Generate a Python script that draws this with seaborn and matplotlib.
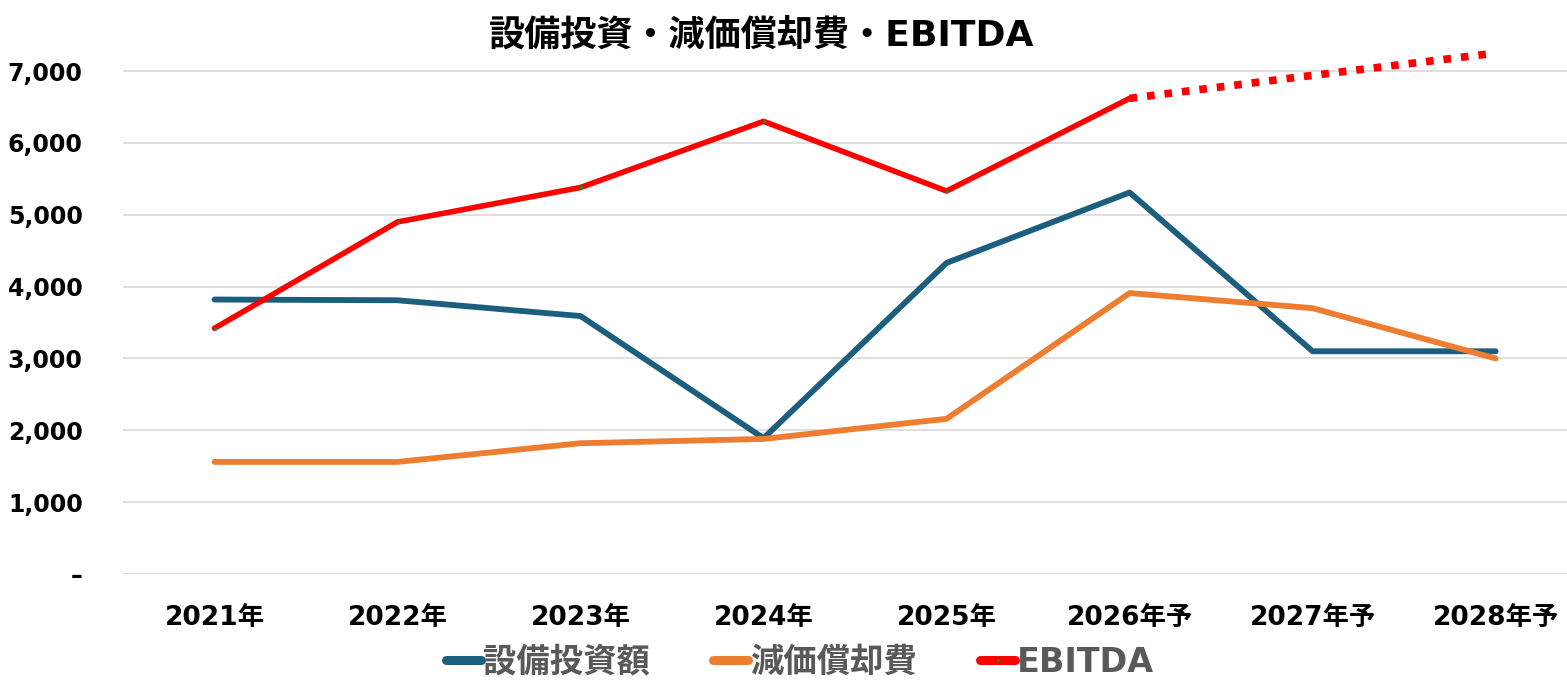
import pandas as pd
import matplotlib.pyplot as plt
import numpy as np
import seaborn as sns

years = ["2021年", "2022年", "2023年", "2024年", "2025年", "2026年予", "2027年予", "2028年予"]
capex = [3820, 3810, 3590, 1890, 4330, 5310, 3100, 3100]
depreciation = [1560, 1560, 1820, 1880, 2160, 3910, 3700, 3000]
ebitda_actual = [3420, 4900, 5380, 6300, 5330, 6620]
ebitda_forecast = [6620, 6940, 7250]
yticks = [0, 1000, 2000, 3000, 4000, 5000, 6000, 7000]

sns.set_style("white")
plt.rcParams['font.family'] = ['DejaVu Sans', 'Noto Sans CJK JP']

fig = plt.figure(figsize=(15.67, 6.84), dpi=100)
ax = fig.add_axes([123 / 1567, 1 - 574 / 684, 1 - 123 / 1567, (574 - 49.5) / 684])

idx = np.arange(len(years))
blue = "#1B5E7E"
orange = "#ED7D31"
red = "#FF0000"

sns.lineplot(x=idx, y=capex, ax=ax, color=blue, linewidth=4.2,
             solid_capstyle="round", label="設備投資額")
sns.lineplot(x=idx, y=depreciation, ax=ax, color=orange, linewidth=4.2,
             solid_capstyle="round", label="減価償却費")
sns.lineplot(x=idx[:6], y=ebitda_actual, ax=ax, color=red, linewidth=4.0,
             marker="o", markersize=2.5, markerfacecolor="#2E7D32",
             markeredgewidth=0, label="EBITDA")
sns.lineplot(x=idx[5:], y=ebitda_forecast, ax=ax, color=red, linewidth=5.5,
             linestyle=(0, (1, 1.3)), dash_capstyle="butt", legend=False)

ax.set_xlim(-0.5, 7.39)
ax.set_ylim(0, 7300)
ax.set_yticks(yticks)
ax.set_yticklabels(["–" if v == 0 else f"{v:,}" for v in yticks])
ax.set_xticks(idx)
ax.set_xticklabels(years)
ax.tick_params(axis="y", length=0, pad=29, labelsize=17)
ax.tick_params(axis="x", length=0, pad=22, labelsize=19)
for lab in ax.get_xticklabels() + ax.get_yticklabels():
    lab.set_fontweight("bold")
    lab.set_color("black")

ax.grid(axis="y", color="#D9D9D9", linewidth=1.2)
ax.set_axisbelow(True)
for s in ax.spines.values():
    s.set_visible(False)
ax.set_xlabel("")
ax.set_ylabel("")

fig.text(0.486, 0.948, "設備投資・減価償却費・EBITDA", ha="center", va="center",
         fontsize=26, fontweight="bold", color="black")

leg = ax.legend(loc="center", bbox_to_anchor=(0.469, -0.168), ncol=3, frameon=False,
                handlelength=1.05, handletextpad=0.05, columnspacing=1.9,
                prop={"size": 24, "weight": "bold", "family": ["DejaVu Sans", "Noto Sans CJK JP"]})
for t in leg.get_texts():
    t.set_color("#595959")
for h in leg.get_lines():
    h.set_linewidth(6.5)

fig.savefig("out.png", dpi=100)
